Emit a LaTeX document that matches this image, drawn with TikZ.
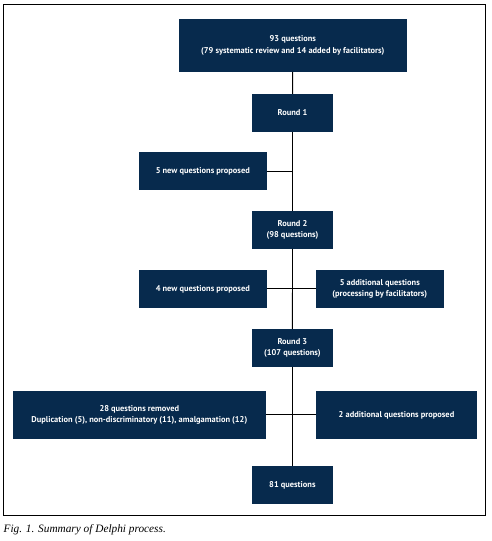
\documentclass[tikz,border=0pt]{standalone}
\usepackage{fontspec}
\setmainfont{Liberation Serif}
\setsansfont{PT Sans}
\definecolor{navy}{HTML}{072A4D}
\begin{document}
\begin{tikzpicture}[x=1pt,y=-1pt,
  box/.style={fill=navy,draw=none,text=white,align=center,inner sep=0pt,
    font=\sffamily\bfseries\fontsize{8.4}{11.6}\selectfont},
  link/.style={draw=black,line width=0.9pt}]
\useasboundingbox (0,0) rectangle (491,541);
\draw[line width=1pt] (3.3,4.3) rectangle (485,515);
% nodes
\node[box,minimum width=227.7pt,minimum height=52.7pt] (top) at (292.8,45.3)
  {93 questions\\(79 systematic review and 14 added by facilitators)};
\node[box,minimum width=80.4pt,minimum height=37.7pt] (r1) at (292.5,112.8) {Round 1};
\node[box,minimum width=127.7pt,minimum height=37.4pt] (q5) at (202.8,171) {5 new questions proposed};
\node[box,minimum width=80.4pt,minimum height=37.7pt] (r2) at (292.5,229.9) {Round 2\\(98 questions)};
\node[box,minimum width=127.7pt,minimum height=37.7pt] (q4) at (202.8,288.9) {4 new questions proposed};
\node[box,minimum width=127.7pt,minimum height=37.7pt] (a5) at (379.8,288.9) {5 additional questions\\(processing by facilitators)};
\node[box,minimum width=80.7pt,minimum height=37.7pt] (r3) at (292.4,347.9) {Round 3\\(107 questions)};
\node[box,minimum width=252.7pt,minimum height=47.7pt] (rm) at (139.3,414.9)
  {28 questions removed\\Duplication (5), non-discriminatory (11), amalgamation (12)};
\node[box,minimum width=161pt,minimum height=47.7pt] (a2) at (396.5,414.9) {2 additional questions proposed};
\node[box,minimum width=80.7pt,minimum height=37.7pt] (fin) at (292.4,484.9) {81 questions};
% connectors
\draw[link] (top) -- (r1);
\draw[link] (r1) -- (r2);
\draw[link] (r2) -- (r3);
\draw[link] (r3) -- (fin);
\draw[link] (q5.east) -- (q5.east -| r1.south);
\draw[link] (q4.east) -- (a5.west);
\draw[link] (rm.east) -- (a2.west);
% caption
\node[anchor=base west,inner sep=0pt,font=\itshape\fontsize{11.3}{13}\selectfont] (cap) at (3.5,532)
  {Fig. 1. Summary of Delphi process.};
\end{tikzpicture}
\end{document}
